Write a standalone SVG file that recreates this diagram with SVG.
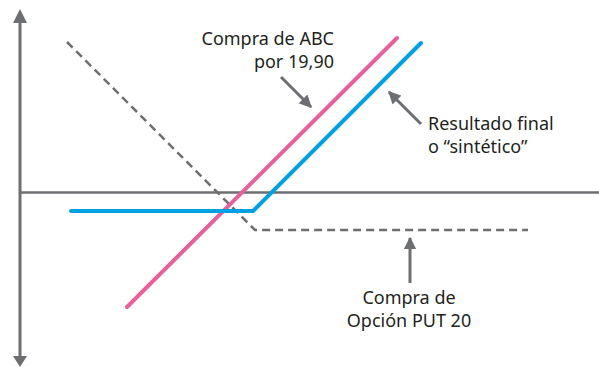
<svg xmlns="http://www.w3.org/2000/svg" width="599" height="367" viewBox="0 0 599 367">
<defs>
<style>
.axis{stroke:#6d6e71;stroke-width:3;fill:none}
.dash{stroke:#6d6e71;stroke-width:2.5;fill:none;stroke-dasharray:8 5}
.pink{stroke:#e8609a;stroke-width:4;fill:none;stroke-linecap:round}
.blue{stroke:#00a0e3;stroke-width:4;fill:none;stroke-linecap:round;stroke-linejoin:round}
.ptr{stroke:#6d6e71;stroke-width:3;fill:none}
.lbl{font-family:"Noto Sans","Open Sans",sans-serif;font-size:18px;fill:#231f20}
</style>
<marker id="ah" viewBox="0 0 10 10" refX="9" refY="5" markerWidth="4.2" markerHeight="4.2" markerUnits="strokeWidth" orient="auto">
<path d="M0,0 L10,5 L0,10 Z" fill="#6d6e71"/>
</marker>
</defs>
<g id="axes">
<line class="axis" x1="20" y1="22" x2="20" y2="356"/>
<path d="M20,9 L27,23 L13,23 Z" fill="#6d6e71"/>
<path d="M20,367 L27,356 L13,356 Z" fill="#6d6e71"/>
<line class="axis" x1="20" y1="192.5" x2="599" y2="192.5" style="stroke-width:2.5"/>
</g>
<g id="put-line"><polyline class="dash" points="67,42 255,230 528,230"/></g>
<g id="abc-line"><line class="pink" x1="127" y1="307" x2="397" y2="38"/></g>
<g id="result-line"><polyline class="blue" points="71,211 253,211 421,43"/></g>
<g id="connectors">
<line class="ptr" x1="281" y1="77" x2="311" y2="107" marker-end="url(#ah)"/>
<line class="ptr" x1="421" y1="124" x2="389" y2="92" marker-end="url(#ah)"/>
<line class="ptr" x1="410" y1="283" x2="410" y2="238" marker-end="url(#ah)"/>
</g>
<g id="label-abc">
<text class="lbl" x="334" y="45" text-anchor="end">Compra de ABC</text>
<text class="lbl" x="334" y="67.5" text-anchor="end">por 19,90</text>
</g>
<g id="label-result">
<text class="lbl" x="428" y="130">Resultado final</text>
<text class="lbl" x="428" y="152.5">o “sintético”</text>
</g>
<g id="label-put">
<text class="lbl" x="409" y="304" text-anchor="middle">Compra de</text>
<text class="lbl" x="409" y="327" text-anchor="middle">Opción PUT 20</text>
</g>
</svg>
